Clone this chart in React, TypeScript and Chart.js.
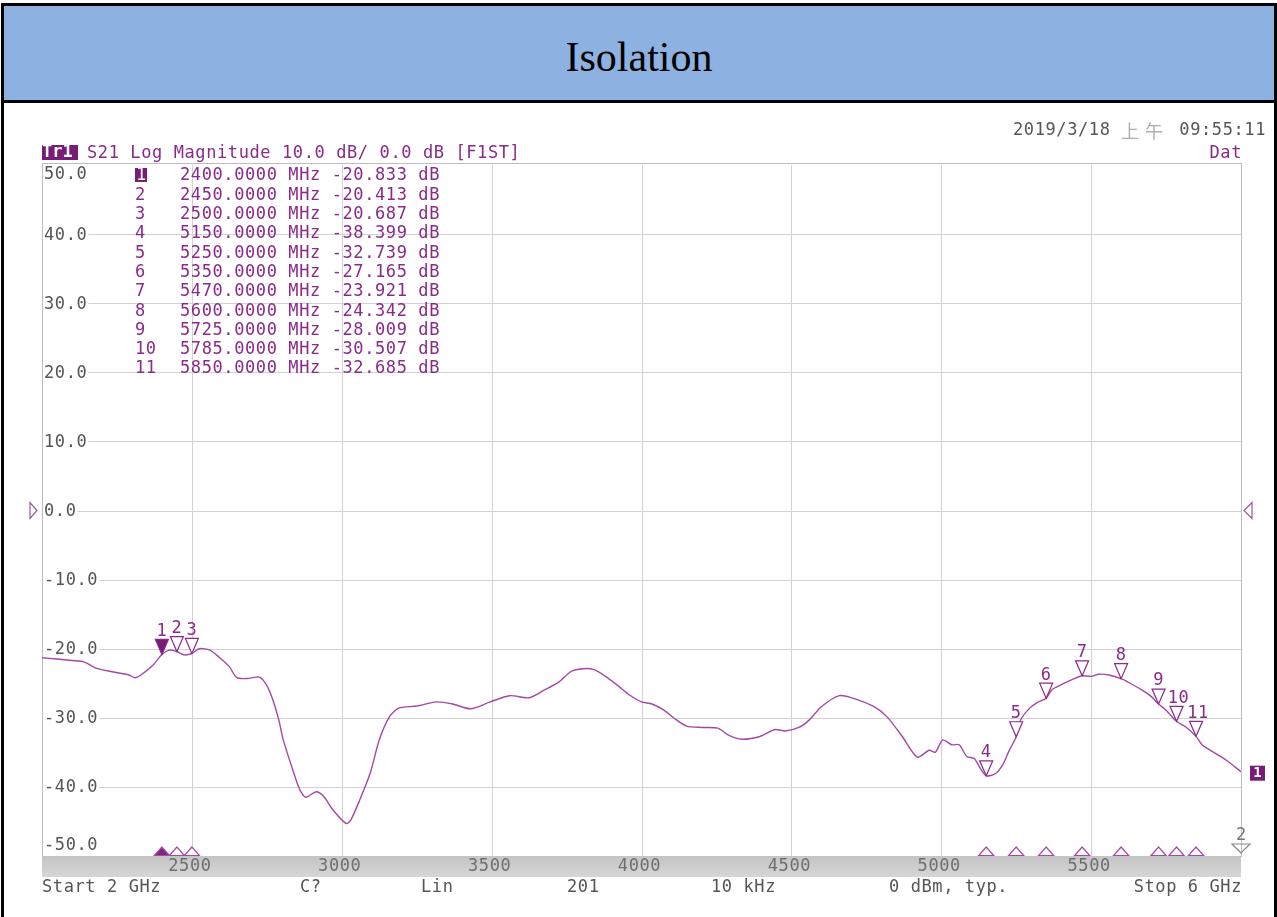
import React, { useEffect, useRef } from "react";
import { Chart, registerables } from "chart.js";

Chart.register(...registerables);

// ---- Data (S21 isolation trace, 2–6 GHz) ----
const FREQ_MHZ = [
  2000, 2050, 2100, 2140, 2180, 2230, 2290, 2310, 2330, 2370, 2400, 2425, 2450, 2475, 2500,
  2525, 2560, 2590, 2625, 2650, 2690, 2725, 2750, 2770, 2790, 2805, 2840, 2860, 2880, 2915,
  2940, 2970, 3015, 3030, 3060, 3095, 3125, 3160, 3190, 3250, 3315, 3370, 3430, 3495, 3560,
  3625, 3675, 3725, 3765, 3805, 3840, 3880, 3920, 3960, 4000, 4035, 4075, 4110, 4150, 4200,
  4255, 4290, 4335, 4395, 4445, 4480, 4525, 4560, 4600, 4660, 4715, 4780, 4820, 4870, 4920,
  4960, 4980, 5005, 5035, 5060, 5085, 5110, 5130, 5150, 5180, 5205, 5225, 5250, 5265, 5295,
  5320, 5350, 5370, 5405, 5440, 5470, 5500, 5525, 5560, 5600, 5630, 5670, 5700, 5725, 5750,
  5785, 5815, 5850, 5870, 5905, 5950, 6000,
];
const S21_DB = [
  -21.3, -21.5, -21.7, -21.9, -22.8, -23.3, -23.8, -24.2, -23.8, -22.4, -20.83, -20.2, -20.41, -20.9, -20.69,
  -20.0, -20.2, -21.2, -22.6, -24.2, -24.3, -24.1, -25.3, -27.4, -30.3, -33.2, -38.0, -40.4, -41.5, -40.7,
  -41.4, -43.3, -45.3, -44.8, -41.9, -38.0, -33.2, -29.8, -28.6, -28.3, -27.7, -28.0, -28.7, -27.7, -26.8,
  -27.1, -26.0, -24.8, -23.3, -22.9, -23.0, -24.0, -25.3, -26.7, -27.7, -28.0, -28.9, -30.1, -31.2, -31.4,
  -31.5, -32.5, -33.1, -32.7, -31.7, -31.9, -31.4, -30.3, -28.4, -26.8, -27.3, -28.5, -29.9, -32.7, -35.7,
  -34.7, -35.0, -33.2, -33.9, -33.9, -35.6, -35.9, -37.3, -38.4, -38.1, -36.8, -34.9, -32.74, -30.3, -28.6,
  -27.8, -27.17, -25.9, -25.1, -24.4, -23.92, -24.0, -23.7, -23.8, -24.34, -25.0, -26.0, -26.9, -28.01, -28.9,
  -30.51, -31.3, -32.69, -33.9, -34.9, -36.1, -37.8,
];

const MARKER_FREQ = [2400, 2450, 2500, 5150, 5250, 5350, 5470, 5600, 5725, 5785, 5850];
const MARKER_DB = [-20.833, -20.413, -20.687, -38.399, -32.739, -27.165, -23.921, -24.342, -28.009, -30.507, -32.685];

const Y_TICKS = [50, 40, 30, 20, 10, 0, -10, -20, -30, -40, -50];
const X_TICKS = [2500, 3000, 3500, 4000, 4500, 5000, 5500];
const FOOTER_LABELS = ["Start 2 GHz", "C?", "Lin", "201", "10 kHz", "0 dBm, typ.", "Stop 6 GHz"];
const TRACE_HEADER = "S21 Log Magnitude 10.0 dB/ 0.0 dB [F1ST]";
const DATE_TEXT = ["2019/3/18", "上午", "09:55:11"];

const PURPLE = "#8a2a8a";
const DARK_PURPLE = "#771c77";
const CURVE = "#a448a4";
const GRAY_TEXT = "#555555";
const MONO = "17px 'DejaVu Sans Mono', 'Liberation Mono', monospace";
const SPACING = "0.6px";

function setSpacing(ctx: any, v: string) {
  if ("letterSpacing" in ctx) ctx.letterSpacing = v;
}

function triangle(
  ctx: CanvasRenderingContext2D,
  x: number,
  yTip: number,
  hw: number,
  h: number,
  down: boolean,
  stroke: string,
  fill?: string
) {
  ctx.beginPath();
  if (down) {
    ctx.moveTo(x, yTip);
    ctx.lineTo(x - hw, yTip - h);
    ctx.lineTo(x + hw, yTip - h);
  } else {
    ctx.moveTo(x, yTip);
    ctx.lineTo(x - hw, yTip + h);
    ctx.lineTo(x + hw, yTip + h);
  }
  ctx.closePath();
  if (fill) {
    ctx.fillStyle = fill;
    ctx.fill();
  }
  ctx.strokeStyle = stroke;
  ctx.lineWidth = 1.2;
  ctx.stroke();
}

const vnaPlugin = {
  id: "vnaDecor",
  beforeDatasetsDraw(chart: any) {
    const ctx: CanvasRenderingContext2D = chart.ctx;
    const { left, right, top, bottom } = chart.chartArea;
    const xs = chart.scales.x;
    const ys = chart.scales.y;
    ctx.save();
    // grid
    ctx.strokeStyle = "#d2d2d2";
    ctx.lineWidth = 1;
    Y_TICKS.forEach((v) => {
      if (v === 50 || v === -50) return;
      const y = Math.round(ys.getPixelForValue(v)) + 0.5;
      ctx.beginPath();
      ctx.moveTo(left, y);
      ctx.lineTo(right, y);
      ctx.stroke();
    });
    X_TICKS.forEach((v) => {
      const x = Math.round(xs.getPixelForValue(v)) + 0.5;
      ctx.beginPath();
      ctx.moveTo(x, top);
      ctx.lineTo(x, bottom);
      ctx.stroke();
    });
    // frame
    ctx.strokeStyle = "#bdbdbd";
    ctx.strokeRect(Math.round(left) + 0.5, Math.round(top) - 1.5, Math.round(right - left), Math.round(bottom - top) + 2);

    // y labels with white backing
    ctx.font = MONO;
    setSpacing(ctx, SPACING);
    ctx.textBaseline = "middle";
    ctx.textAlign = "left";
    Y_TICKS.forEach((v) => {
      let y = ys.getPixelForValue(v);
      if (v === 50) y = top + 9;
      if (v === -50) y = bottom - 11;
      const txt = v.toFixed(1);
      const w = ctx.measureText(txt).width;
      ctx.fillStyle = "#ffffff";
      ctx.fillRect(left + 1, y - 8, w + 2, 16);
      ctx.fillStyle = GRAY_TEXT;
      ctx.fillText(txt, left + 2, y + 1);
    });

    // marker table
    MARKER_FREQ.forEach((f, i) => {
      const y = 175 + i * 19.3;
      const num = String(i + 1);
      if (i === 0) {
        ctx.fillStyle = DARK_PURPLE;
        ctx.fillRect(135, y - 7, 12, 14);
        ctx.fillStyle = "#ffffff";
        ctx.fillText(num, 136, y + 1);
      } else {
        ctx.fillStyle = PURPLE;
        ctx.fillText(num, 135, y + 1);
      }
      ctx.fillStyle = PURPLE;
      const line = `${f.toFixed(4)} MHz ${MARKER_DB[i].toFixed(3)} dB`;
      ctx.fillText(line, 180, y + 1);
    });
    setSpacing(ctx, "0px");
    ctx.restore();
  },
  afterDatasetsDraw(chart: any) {
    const ctx: CanvasRenderingContext2D = chart.ctx;
    const { left, right, top, bottom } = chart.chartArea;
    const xs = chart.scales.x;
    const ys = chart.scales.y;
    ctx.save();

    // bottom grey band with frequency ticks
    const grad = ctx.createLinearGradient(0, bottom, 0, bottom + 21);
    grad.addColorStop(0, "#c4c4c4");
    grad.addColorStop(1, "#d6d6d6");
    ctx.fillStyle = grad;
    ctx.fillRect(left, bottom, right - left, 21);
    ctx.font = MONO;
    setSpacing(ctx, SPACING);
    ctx.textBaseline = "middle";
    ctx.textAlign = "center";
    ctx.fillStyle = "#6e6e6e";
    X_TICKS.forEach((v) => {
      ctx.fillText(String(v), xs.getPixelForValue(v) - 2, bottom + 11);
    });

    // stimulus markers on band
    MARKER_FREQ.forEach((f, i) => {
      const x = xs.getPixelForValue(f);
      triangle(ctx, x, bottom - 9, 7.5, 8.5, false, "#a848a8", i === 0 ? "#7a2a7a" : "#ffffff");
    });

    // markers on trace
    MARKER_FREQ.forEach((f, i) => {
      const x = xs.getPixelForValue(f);
      const y = ys.getPixelForValue(MARKER_DB[i]);
      triangle(ctx, x, y, 6.5, 15, true, PURPLE, i === 0 ? DARK_PURPLE : "#ffffff");
      ctx.fillStyle = PURPLE;
      ctx.textAlign = "center";
      ctx.fillText(String(i + 1), x + (i >= 9 ? 2 : 0), y - 23);
    });

    // reference level arrows
    const y0 = ys.getPixelForValue(0);
    ctx.strokeStyle = "#9a5a9a";
    ctx.lineWidth = 1.2;
    ctx.beginPath();
    ctx.moveTo(37, y0);
    ctx.lineTo(30, y0 - 8);
    ctx.lineTo(30, y0 + 8);
    ctx.closePath();
    ctx.stroke();
    ctx.beginPath();
    ctx.moveTo(right + 3, y0);
    ctx.lineTo(right + 11, y0 - 8);
    ctx.lineTo(right + 11, y0 + 8);
    ctx.closePath();
    ctx.stroke();

    // trace end label "1"
    const yEnd = ys.getPixelForValue(S21_DB[S21_DB.length - 1]);
    ctx.fillStyle = DARK_PURPLE;
    ctx.fillRect(right + 9, yEnd - 6, 15, 15);
    ctx.fillStyle = "#ffffff";
    ctx.textAlign = "center";
    ctx.font = "bold 14px 'DejaVu Sans Mono', monospace";
    setSpacing(ctx, "0px");
    ctx.fillText("1", right + 16.5, yEnd + 2);

    // channel 2 indicator
    ctx.font = MONO;
    ctx.fillStyle = "#777777";
    ctx.fillText("2", right, bottom - 20);
    triangle(ctx, right, bottom - 3, 9, 9, true, "#888888");

    // footer row
    ctx.font = MONO;
    setSpacing(ctx, SPACING);
    ctx.fillStyle = GRAY_TEXT;
    ctx.textAlign = "left";
    const fx = [42, 300, 421, 567, 711, 889];
    FOOTER_LABELS.forEach((t, i) => {
      if (i === FOOTER_LABELS.length - 1) {
        ctx.textAlign = "right";
        ctx.fillText(t, right + 1, bottom + 32);
      } else {
        ctx.fillText(t, fx[i], bottom + 32);
      }
    });

    // header row
    ctx.textAlign = "left";
    ctx.fillStyle = DARK_PURPLE;
    ctx.fillRect(42, 145, 36, 15);
    ctx.fillStyle = "#ffffff";
    ctx.font = "bold 17px 'DejaVu Sans Mono', monospace";
    setSpacing(ctx, "0px");
    ctx.fillText("Tr1", 42, 153);
    ctx.font = MONO;
    setSpacing(ctx, SPACING);
    ctx.fillStyle = PURPLE;
    ctx.fillText(TRACE_HEADER, 87, 154);
    ctx.textAlign = "right";
    ctx.fillText("Dat", right + 1, 154);

    // date
    ctx.fillStyle = GRAY_TEXT;
    ctx.textAlign = "left";
    ctx.fillText(DATE_TEXT[0], 1013, 131);
    ctx.fillStyle = "#b0b0b0";
    ctx.font = "18px 'Noto Sans CJK SC', sans-serif";
    setSpacing(ctx, "6px");
    ctx.fillText(DATE_TEXT[1], 1121, 131);
    ctx.font = MONO;
    setSpacing(ctx, SPACING);
    ctx.fillStyle = GRAY_TEXT;
    ctx.textAlign = "right";
    ctx.fillText(DATE_TEXT[2], 1266, 131);
    setSpacing(ctx, "0px");
    ctx.restore();
  },
};

export default function App() {
  const ref = useRef<HTMLCanvasElement>(null);
  useEffect(() => {
    document.body.style.margin = "0";
    const canvas = ref.current!;
    const chart = new Chart(canvas, {
      type: "line",
      data: {
        datasets: [
          {
            label: "S21",
            data: FREQ_MHZ.map((f, i) => ({ x: f, y: S21_DB[i] })),
            borderColor: CURVE,
            borderWidth: 1.4,
            pointRadius: 0,
            tension: 0.25,
            fill: false,
          },
        ],
      },
      options: {
        animation: false,
        responsive: false,
        devicePixelRatio: 1,
        events: [],
        layout: { padding: { left: 42, top: 165, right: 36, bottom: 61 } },
        plugins: { legend: { display: false }, tooltip: { enabled: false } },
        scales: {
          x: { type: "linear", min: 2000, max: 6000, display: false },
          y: { type: "linear", min: -50, max: 50, display: false },
        },
      },
      plugins: [vnaPlugin],
    } as any);
    return () => chart.destroy();
  }, []);

  return (
    <div style={{ position: "relative", width: 1277, height: 917, overflow: "hidden", background: "#ffffff" }}>
      <canvas ref={ref} width={1277} height={917} style={{ position: "absolute", left: 0, top: 0, width: 1277, height: 917 }} />
      <div
        style={{
          position: "absolute",
          left: 1,
          top: 3,
          width: 1270,
          height: 940,
          borderLeft: "3px solid #000",
          borderRight: "3px solid #000",
          borderTop: "3px solid #000",
          pointerEvents: "none",
        }}
      />
      <div
        style={{
          position: "absolute",
          left: 4,
          top: 6,
          width: 1270,
          height: 94,
          background: "#8db2e2",
          borderBottom: "3px solid #000",
          display: "flex",
          alignItems: "center",
          justifyContent: "center",
          fontFamily: "'Liberation Serif', 'Times New Roman', serif",
          fontSize: 42,
          color: "#000",
        }}
      >
        <span style={{ position: "relative", top: 4 }}>Isolation</span>
      </div>
    </div>
  );
}
